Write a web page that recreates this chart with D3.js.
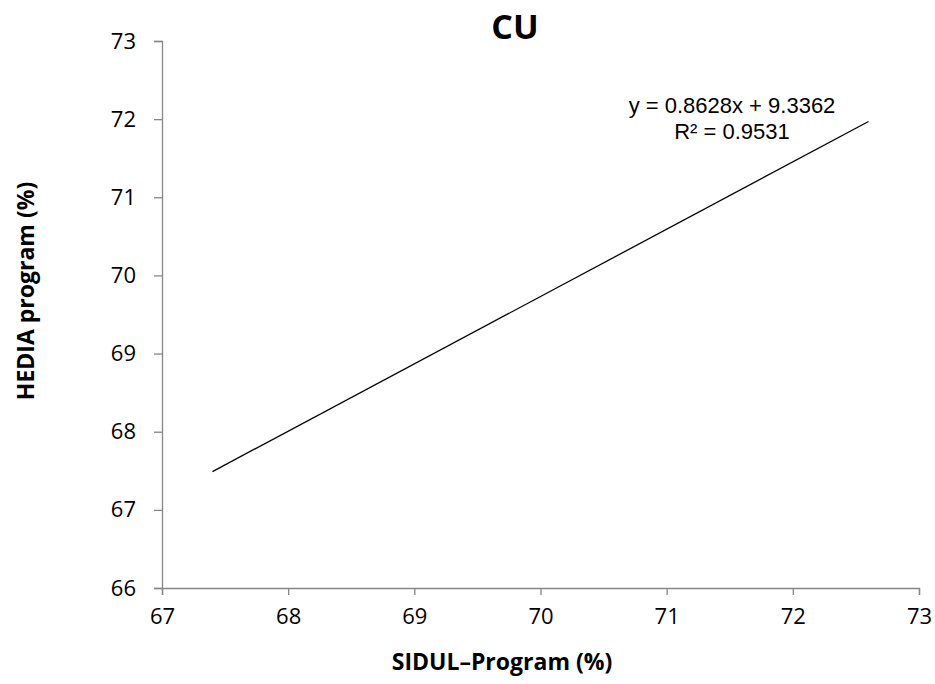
<!DOCTYPE html>
<html><head><meta charset="utf-8">
<script src="https://cdn.jsdelivr.net/npm/d3@7"></script>
<style>body{margin:0;background:#fff}svg{display:block}text{font-family:"Open Sans",sans-serif}</style>
</head><body>
<script>
const xTicks = [67, 68, 69, 70, 71, 72, 73];
const yTicks = [66, 67, 68, 69, 70, 71, 72, 73];
const lineX = [67.4, 72.6];
const lineY = [67.49, 71.97];
const title = "CU";
const xLabel = "SIDUL\u2013Program (%)";
const yLabel = "HEDIA program (%)";
const eqLines = ["y = 0.8628x + 9.3362", "R\u00b2 = 0.9531"];

const W = 935, H = 684;
const svg = d3.select("body").append("svg").attr("width", W).attr("height", H);
const x = d3.scaleLinear().domain([67, 73]).range([162, 919]);
const y = d3.scaleLinear().domain([66, 73]).range([588, 41]);

const xa = svg.append("g").attr("transform", "translate(0,588)")
  .call(d3.axisBottom(x).tickValues(xTicks).tickSize(7).tickPadding(13).tickFormat(d3.format("d")));
const ya = svg.append("g").attr("transform", "translate(162,0)")
  .call(d3.axisLeft(y).tickValues(yTicks).tickSize(8).tickPadding(18).tickFormat(d3.format("d")));
[xa, ya].forEach(g => {
  g.select(".domain").attr("stroke", "#868686").attr("stroke-width", 1.3);
  g.selectAll(".tick line").attr("stroke", "#868686").attr("stroke-width", 1.3);
  g.selectAll(".tick text").attr("fill", "#000").style("font-size", "22px").style("font-family", "'Open Sans', sans-serif");
});

const pts = lineX.map((v, i) => [v, lineY[i]]);
svg.append("path").datum(pts)
  .attr("d", d3.line().x(d => x(d[0])).y(d => y(d[1])))
  .attr("stroke", "#000").attr("stroke-width", 1.3).attr("fill", "none");

svg.append("text").attr("x", 515).attr("y", 39).attr("text-anchor", "middle")
  .style("font-size", "34px").style("font-weight", "bold").text(title);
svg.append("text").attr("x", 502).attr("y", 670).attr("text-anchor", "middle")
  .style("font-size", "23px").style("font-weight", "bold").text(xLabel);
svg.append("text").attr("transform", "translate(34,291) rotate(-90)").attr("text-anchor", "middle")
  .style("font-size", "23px").style("font-weight", "bold").text(yLabel);
const eq = svg.append("text").attr("text-anchor", "middle")
  .style("font-size", "22px").style("font-family", "'Liberation Sans', Arial, sans-serif");
eq.selectAll("tspan").data(eqLines).join("tspan")
  .attr("x", 732).attr("y", (d, i) => 113 + i * 26).text(d => d);
</script>
</body></html>
